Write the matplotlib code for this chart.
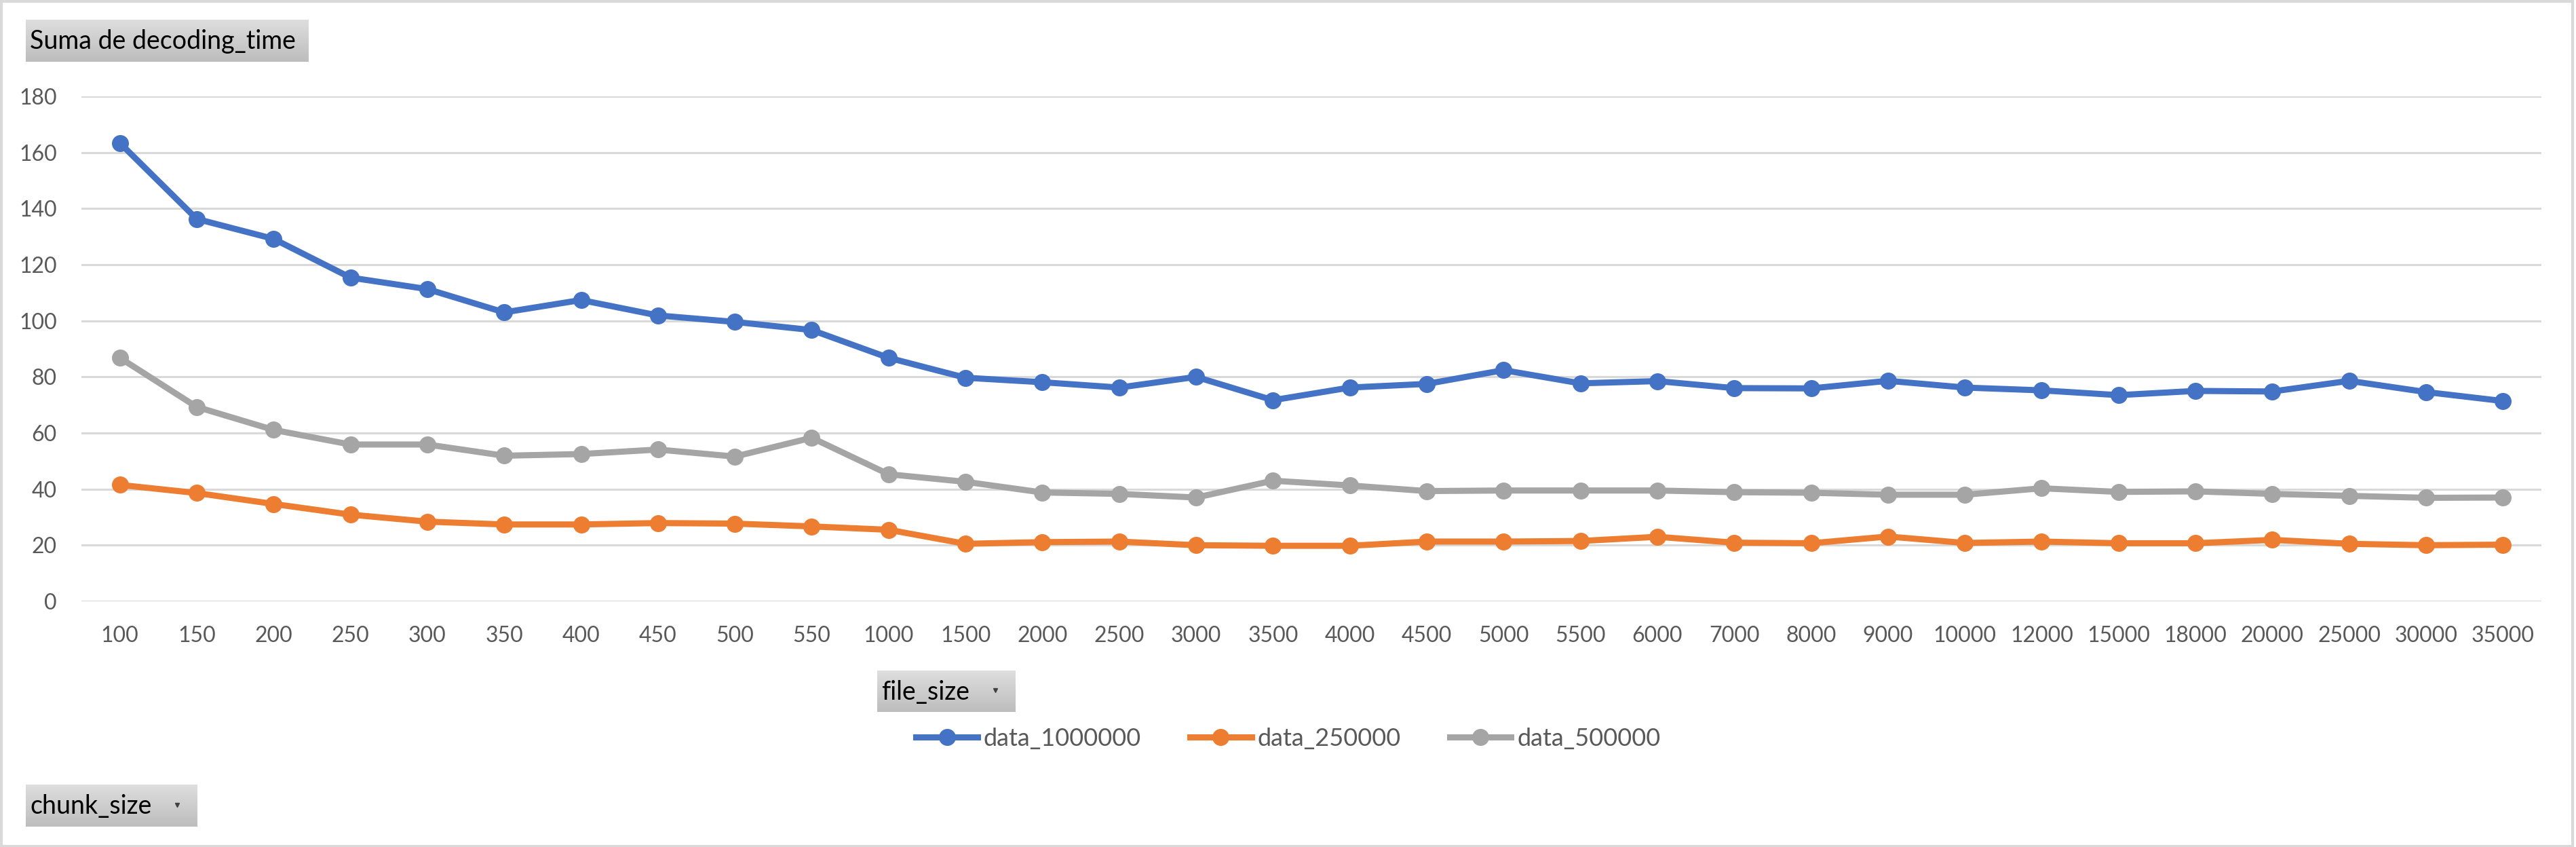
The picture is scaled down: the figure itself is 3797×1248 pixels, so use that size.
import numpy as np
import matplotlib
matplotlib.use('Agg')
import matplotlib.pyplot as plt
from matplotlib.patches import Rectangle

plt.rcParams['font.family'] = ['Lato', 'DejaVu Sans']

file_sizes = ['100', '150', '200', '250', '300', '350', '400', '450', '500', '550',
              '1000', '1500', '2000', '2500', '3000', '3500', '4000', '4500', '5000',
              '5500', '6000', '7000', '8000', '9000', '10000', '12000', '15000',
              '18000', '20000', '25000', '30000', '35000']

data_1000000 = [163.4, 136.3, 129.2, 115.4, 111.3, 103.0, 107.4, 101.9, 99.6, 96.7,
                86.8, 79.7, 78.1, 76.2, 80.0, 71.7, 76.2, 77.5, 82.4, 77.7,
                78.5, 76.0, 75.9, 78.6, 76.2, 75.2, 73.5, 75.0, 74.8, 78.6, 74.6, 71.4]
data_250000 = [41.5, 38.6, 34.7, 30.9, 28.4, 27.4, 27.4, 27.9, 27.7, 26.7,
               25.5, 20.5, 21.1, 21.3, 20.0, 19.8, 19.8, 21.3, 21.3, 21.5,
               23.0, 20.9, 20.7, 23.1, 20.8, 21.3, 20.7, 20.7, 21.9, 20.5, 20.0, 20.2]
data_500000 = [86.8, 69.3, 61.1, 55.9, 55.9, 51.9, 52.5, 54.1, 51.6, 58.3,
               45.3, 42.6, 38.8, 38.3, 37.0, 43.0, 41.3, 39.3, 39.5, 39.5,
               39.5, 38.9, 38.7, 38.0, 38.0, 40.3, 39.0, 39.2, 38.3, 37.6, 36.9, 37.0]

series_names = ['data_1000000', 'data_250000', 'data_500000']
series_colors = ['#4472c4', '#ed7d31', '#a5a5a5']

W, H = 3798, 1248
fig = plt.figure(figsize=(W / 100, H / 100), dpi=100)

# plot area
ax = fig.add_axes([120 / W, 1 - 886 / H, (3746 - 120) / W, (886 - 142) / H])
x = np.arange(len(file_sizes))
lines = []
for vals, name, col in zip([data_1000000, data_250000, data_500000], series_names, series_colors):
    ln, = ax.plot(x, vals, color=col, lw=6.5, marker='o', ms=17, label=name,
                  solid_joinstyle='round', zorder=3)
    lines.append(ln)

ax.set_xlim(-0.5, len(file_sizes) - 0.5)
ax.set_ylim(0, 180)
ax.set_yticks(range(0, 181, 20))
ax.set_xticks(x)
ax.set_xticklabels(file_sizes)
ax.tick_params(axis='both', length=0, labelsize=23, colors='#595959')
ax.tick_params(axis='x', pad=26)
ax.tick_params(axis='y', pad=26)
ax.grid(axis='y', color='#d9d9d9', lw=2.2)
ax.set_axisbelow(True)
for s in ax.spines.values():
    s.set_visible(False)

fig.legend(handles=lines, loc='center', bbox_to_anchor=(0.5, 1 - 1088 / H), ncol=3,
           frameon=False, fontsize=26, labelcolor='#595959', handlelength=2.5,
           columnspacing=2.0, handletextpad=0.25)

# field buttons (pivot chart)
grad = np.linspace(0, 1, 64).reshape(-1, 1)
btn_cmap = matplotlib.colors.LinearSegmentedColormap.from_list('btn', ['#dedede', '#bdbdbd'])


def button(x0, y0, x1, y1, label, fs, arrow=False):
    bax = fig.add_axes([x0 / W, 1 - y1 / H, (x1 - x0) / W, (y1 - y0) / H])
    bax.imshow(grad, aspect='auto', cmap=btn_cmap, extent=[0, 1, 0, 1], origin='upper')
    bax.set_xlim(0, 1)
    bax.set_ylim(0, 1)
    bax.axis('off')
    bax.text(6 / (x1 - x0), 0.48, label, fontsize=fs, color='black', va='center', ha='left')
    if arrow:
        bax.plot([1 - 30 / (x1 - x0)], [0.52], marker='v', ms=5, color='#404040')


button(38, 29, 455, 91, 'Suma de decoding_time', 27)
button(1293, 988, 1497, 1049, 'file_size', 27, arrow=True)
button(38, 1156, 291, 1218, 'chunk_size', 27, arrow=True)

# outer border
fig.patches.append(Rectangle((0.0005, 0.001), 0.998, 0.997, transform=fig.transFigure,
                             fill=False, edgecolor='#d9d9d9', lw=3))

fig.savefig('out.png', dpi=100)
